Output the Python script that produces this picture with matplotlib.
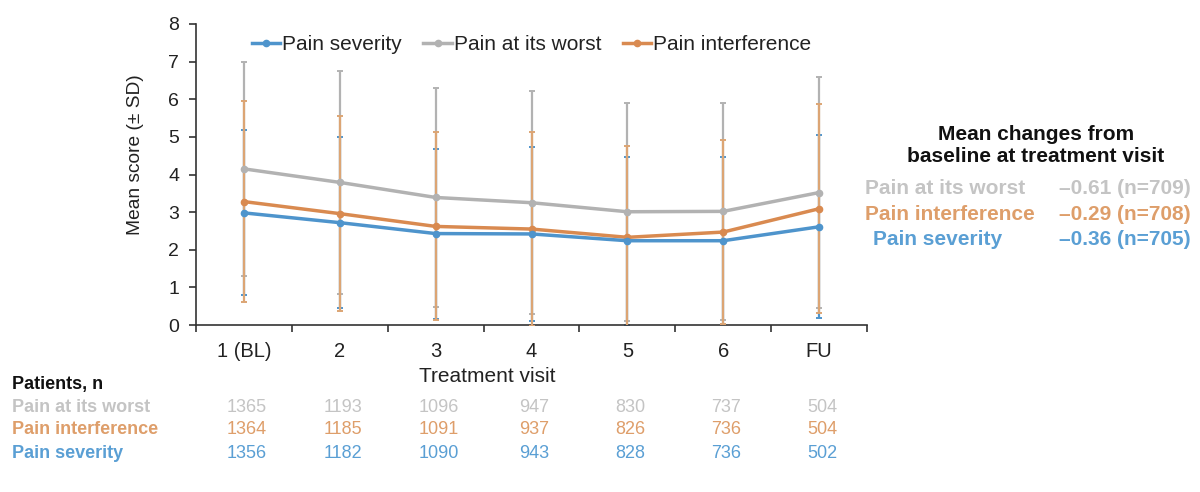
import matplotlib
matplotlib.use("Agg")
import matplotlib.pyplot as plt
import matplotlib.transforms as mtransforms
import numpy as np

plt.rcParams['font.family'] = ['Liberation Sans', 'DejaVu Sans']

# ---------- data ---------- #
visits = ['1 (BL)', '2', '3', '4', '5', '6', 'FU']

worst_mean = [4.15, 3.79, 3.39, 3.25, 3.01, 3.02, 3.52]
worst_sd = [2.85, 2.96, 2.91, 2.97, 2.90, 2.89, 3.08]
interf_mean = [3.28, 2.96, 2.62, 2.55, 2.33, 2.47, 3.09]
interf_sd = [2.67, 2.59, 2.50, 2.57, 2.42, 2.44, 2.78]
sever_mean = [2.98, 2.72, 2.43, 2.42, 2.24, 2.24, 2.61]
sever_sd = [2.19, 2.27, 2.26, 2.32, 2.23, 2.22, 2.43]

n_worst = [1365, 1193, 1096, 947, 830, 737, 504]
n_interf = [1364, 1185, 1091, 937, 826, 736, 504]
n_sever = [1356, 1182, 1090, 943, 828, 736, 502]

change_labels = ['Pain at its worst', 'Pain interference', 'Pain severity']
change_values = ['\u20130.61 (n=709)', '\u20130.29 (n=708)', '\u20130.36 (n=705)']

# ---------- colours ---------- #
c_blue = '#4E94CC'
c_gray = '#B2B2B2'
c_orange = '#D98A50'
c_orange_err = '#DCA574'
c_gray_txt = '#C4C4C4'
c_orange_txt = '#DE9E6A'
c_blue_txt = '#5A9FD4'
c_text = '#222222'

W, H = 1200, 492
fig = plt.figure(figsize=(W / 100, H / 100), dpi=100)
ax = fig.add_axes([196 / W, 1 - 325 / H, (867 - 196) / W, (325 - 24) / H])
x = np.arange(len(visits))

# error bars first (blue hidden under orange, orange over gray)
err_kw = dict(fmt='none', elinewidth=1.6, capsize=2.5, capthick=1.4)
ax.errorbar(x, sever_mean, yerr=sever_sd, ecolor=c_blue, zorder=1, **err_kw)
ax.errorbar(x, worst_mean, yerr=worst_sd, ecolor=c_gray, zorder=2, **err_kw)
ax.errorbar(x, interf_mean, yerr=interf_sd, ecolor=c_orange_err, zorder=3, **err_kw)

ax.plot(x, sever_mean, '-o', color=c_blue, lw=2.5, ms=4.5, label='Pain severity', zorder=6)
ax.plot(x, worst_mean, '-o', color=c_gray, lw=2.5, ms=4.5, label='Pain at its worst', zorder=4)
ax.plot(x, interf_mean, '-o', color=c_orange, lw=2.5, ms=4.5, label='Pain interference', zorder=5)

ax.set_xlim(-0.5, len(visits) - 0.5)
ax.set_ylim(0, 8)
ax.set_yticks(range(0, 9))
# tick marks between visits, labels at the visits
ax.set_xticks(np.arange(-0.5, len(visits), 1.0))
ax.set_xticklabels([])
ax.set_xticks(x, minor=True)
ax.set_xticklabels(visits, minor=True)
ax.tick_params(axis='x', which='major', direction='out', length=5, width=1.2, color='#333333')
ax.tick_params(axis='x', which='minor', length=0, pad=12, labelsize=14.5, labelcolor=c_text)
ax.tick_params(axis='y', direction='out', length=5, width=1.2, color='#333333',
               labelsize=14, labelcolor=c_text, pad=7)
for s in ['top', 'right']:
    ax.spines[s].set_visible(False)
for s in ['left', 'bottom']:
    ax.spines[s].set_linewidth(1.2)
    ax.spines[s].set_color('#333333')

fig.text(136 / W, 1 - 155 / H, 'Mean score (\u00b1 SD)', rotation=90, ha='center',
         va='center', fontsize=13.8, color=c_text)

leg = ax.legend(loc='center', bbox_to_anchor=(0.5, (325 - 45) / 301), ncol=3, frameon=False,
                fontsize=15, handlelength=1.35, handletextpad=0.1, columnspacing=1.05)
for t in leg.get_texts():
    t.set_color(c_text)

fig.text(487 / W, 1 - 376 / H, 'Treatment visit', ha='center', va='center',
         fontsize=15, color=c_text)

# ---------- patients table ---------- #
fig.text(12 / W, 1 - 385 / H, 'Patients, n', ha='left', va='center',
         fontsize=13, fontweight='bold', color='#111111')
tr = mtransforms.blended_transform_factory(ax.transData, fig.transFigure)
rows = [('Pain at its worst', n_worst, c_gray_txt, 407),
        ('Pain interference', n_interf, c_orange_txt, 430),
        ('Pain severity', n_sever, c_blue_txt, 453)]
for label, vals, col, ypx in rows:
    yf = 1 - ypx / H
    fig.text(12 / W, yf, label, ha='left', va='center', fontsize=13,
             fontweight='bold', color=col)
    for xi, v in zip(x, vals):
        ax.text(xi + 0.03, yf, str(v), transform=tr, ha='center', va='center',
                fontsize=13, color=col, clip_on=False)

# ---------- mean changes box ---------- #
fig.text(1036 / W, 1 - 145 / H, 'Mean changes from\nbaseline at treatment visit',
         ha='center', va='center', fontsize=15, fontweight='bold', color='#111111',
         linespacing=1.2)
ch_cols = [c_gray_txt, c_orange_txt, c_blue_txt]
ch_y = [189, 214, 239]
ch_x = [865, 865, 873]
for lab, val, col, ypx, xpx in zip(change_labels, change_values, ch_cols, ch_y, ch_x):
    fig.text(xpx / W, 1 - ypx / H, lab, ha='left', va='center', fontsize=15,
             fontweight='bold', color=col)
    fig.text(1191 / W, 1 - ypx / H, val, ha='right', va='center', fontsize=15,
             fontweight='bold', color=col)

fig.savefig('out.png', dpi=100, facecolor='white')
